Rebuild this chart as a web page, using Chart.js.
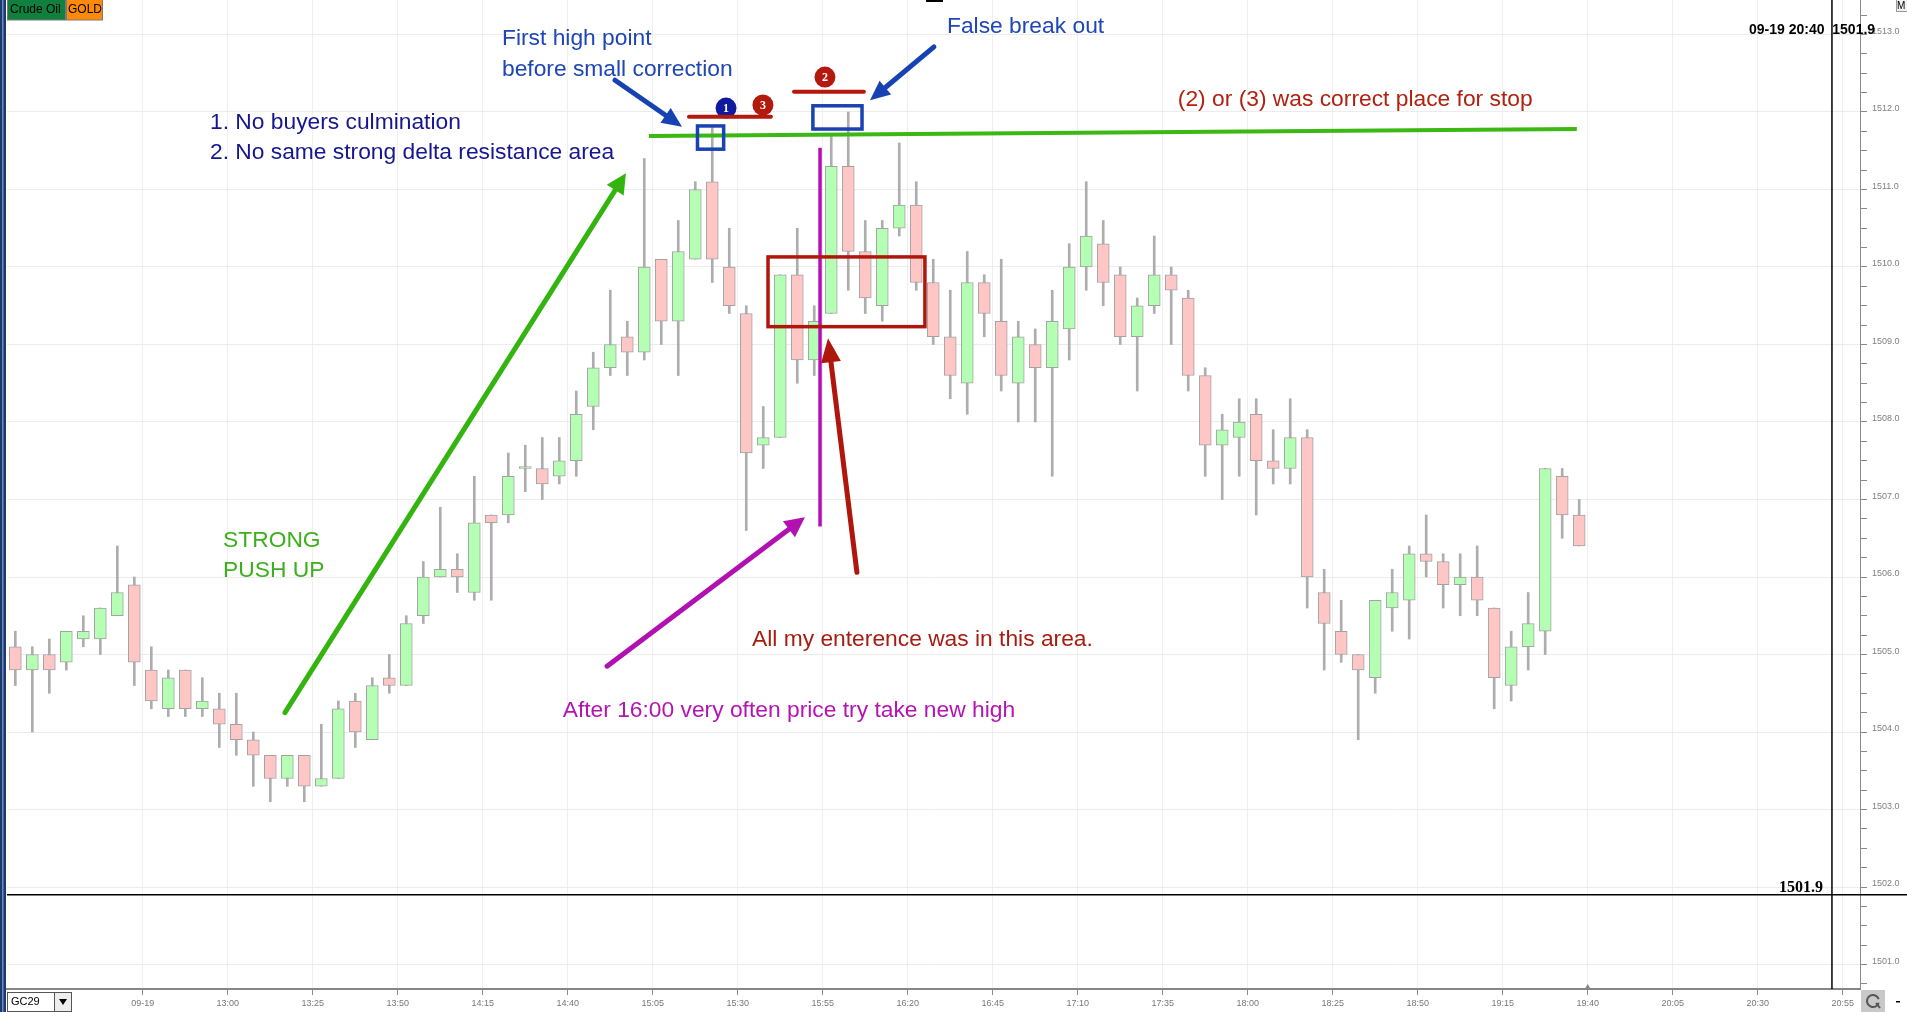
<!DOCTYPE html>
<html>
<head>
<meta charset="utf-8">
<script src="https://cdn.jsdelivr.net/npm/chart.js@4.4.1/dist/chart.umd.min.js"></script>
<style>
html,body{margin:0;padding:0;background:#fff;overflow:hidden}
#wrap{position:relative;width:1907px;height:1012px}
</style>
</head>
<body>
<div id="wrap"><canvas id="c"></canvas></div>
<script>
// ---------- DATA (5-minute GOLD candles, bar index 0..92) ----------
const opens = [1505.1,1504.8,1505.0,1504.9,1505.2,1505.2,1505.5,1505.9,1504.8,1504.3,
1504.8,1504.3,1504.3,1504.1,1503.9,1503.7,1503.4,1503.7,1503.3,1503.4,
1504.4,1503.9,1504.7,1504.6,1505.5,1506.0,1506.1,1505.8,1506.8,1506.8,
1507.4,1507.4,1507.3,1507.5,1508.2,1508.7,1509.1,1508.9,1510.1,1509.3,
1510.1,1511.1,1510.0,1509.4,1507.7,1507.8,1509.9,1508.8,1509.4,1511.3,
1510.2,1509.5,1510.5,1510.8,1509.8,1509.1,1508.5,1509.8,1509.3,1508.5,
1509.0,1508.7,1509.2,1510.0,1510.3,1509.9,1509.1,1509.5,1509.9,1509.6,
1508.6,1507.7,1507.8,1508.1,1507.5,1507.4,1507.8,1505.8,1505.3,1505.0,
1504.7,1505.6,1505.7,1506.3,1506.2,1505.9,1506.0,1505.6,1504.6,1505.1,
1505.3,1507.3,1506.8];
const highs = [1505.3,1505.1,1505.2,1505.3,1505.5,1505.6,1506.4,1506.0,1505.1,1504.8,
1504.8,1504.7,1504.5,1504.5,1504.0,1503.7,1503.7,1503.7,1504.1,1504.4,
1504.5,1504.7,1505.0,1505.5,1506.2,1506.9,1506.3,1507.3,1506.8,1507.6,
1507.7,1507.8,1507.8,1508.4,1508.9,1509.7,1509.3,1511.4,1510.1,1510.6,
1511.1,1511.8,1510.5,1509.5,1508.2,1509.9,1510.5,1509.5,1511.7,1512.0,
1510.6,1510.6,1511.6,1511.1,1510.1,1509.7,1510.2,1509.9,1510.1,1509.3,
1509.2,1509.7,1510.3,1511.1,1510.6,1510.0,1509.6,1510.4,1510.0,1509.7,
1508.7,1508.1,1508.3,1508.3,1507.9,1508.3,1507.9,1506.1,1505.7,1505.0,
1505.7,1506.1,1506.4,1506.8,1506.3,1506.3,1506.4,1505.6,1505.3,1505.8,
1507.4,1507.4,1507.0];
const lows = [1504.6,1504.0,1504.5,1504.8,1505.1,1505.0,1505.5,1504.6,1504.3,1504.2,
1504.2,1504.2,1503.8,1503.7,1503.3,1503.1,1503.3,1503.1,1503.3,1503.4,
1503.8,1503.9,1504.5,1504.6,1505.4,1506.0,1505.8,1505.7,1505.7,1506.7,
1507.1,1507.0,1507.2,1507.3,1507.9,1508.6,1508.6,1508.8,1509.0,1508.6,
1510.1,1509.8,1509.4,1506.6,1507.4,1507.8,1508.5,1508.6,1509.4,1509.7,
1509.4,1509.3,1510.4,1509.7,1509.0,1508.3,1508.1,1509.1,1508.4,1508.0,
1508.0,1507.3,1508.8,1509.7,1509.5,1509.0,1508.4,1509.4,1509.0,1508.4,
1507.3,1507.0,1507.3,1506.8,1507.2,1507.2,1505.6,1504.8,1504.9,1503.9,
1504.5,1505.3,1505.2,1506.0,1505.6,1505.5,1505.5,1504.3,1504.4,1504.8,
1505.0,1506.5,1506.4];
const closes = [1504.8,1505.0,1504.8,1505.3,1505.3,1505.6,1505.8,1504.9,1504.4,1504.7,
1504.3,1504.4,1504.1,1503.9,1503.7,1503.4,1503.7,1503.3,1503.4,1504.3,
1504.0,1504.6,1504.6,1505.4,1506.0,1506.1,1506.0,1506.7,1506.7,1507.3,
1507.4,1507.2,1507.5,1508.1,1508.7,1509.0,1508.9,1510.0,1509.3,1510.2,
1511.0,1510.1,1509.5,1507.6,1507.8,1509.9,1508.8,1509.3,1511.3,1510.2,
1509.6,1510.5,1510.8,1509.8,1509.1,1508.6,1509.8,1509.4,1508.6,1509.1,
1508.7,1509.3,1510.0,1510.4,1509.8,1509.1,1509.5,1509.9,1509.7,1508.6,
1507.7,1507.9,1508.0,1507.5,1507.4,1507.8,1506.0,1505.4,1505.0,1504.8,
1505.7,1505.8,1506.3,1506.2,1505.9,1506.0,1505.7,1504.7,1505.1,1505.4,
1507.4,1506.8,1506.4];
const timeTickPositions = [7.5,12.5,17.5,22.5,27.5,32.5,37.5,42.5,47.5,52.5,57.5,62.5,67.5,72.5,77.5,82.5,87.5,92.5,97.5,102.5,107.5];
const timeTickLabels = ['09-19','13:00','13:25','13:50','14:15','14:40','15:05','15:30','15:55','16:20','16:45','17:10','17:35','18:00','18:25','18:50','19:15','19:40','20:05','20:30','20:55'];
const xRange = [-0.49, 108.52];
const priceRange = [1500.684, 1513.445];
const priceStep = 0.25;
const cursorIndex = 106.87;
const cursorPrice = 1501.9;
const cursorTime = '09-19 20:40';

// ---------- ANNOTATIONS (in bar-index / price units) ----------
const resistanceLine = [[37.28,1511.69],[91.86,1511.78]];
const highBoxes = [[40.13,1511.82,41.67,1511.52],[46.92,1512.08,49.81,1511.78]];
const stopLines = [[39.63,44.45,1511.94],[45.81,49.92,1512.26]];
const stopMarks = [['1',41.81,1512.05,'#0f1a9e'],['3',43.98,1512.09,'#b3190c'],['2',47.63,1512.45,'#b3190c']];
const entryBox = [44.28,1510.13,53.51,1509.23];
const sessionLine = [47.34,1511.54,1506.65];
const arrows = [
  [15.86,1504.25,35.92,1511.21,'#34b40f',5,20,10],
  [35.28,1512.41,39.22,1511.81,'#1743b2',5,20,9],
  [54.04,1512.84,50.28,1512.15,'#1743b2',5,20,9],
  [34.81,1504.85,46.45,1506.77,'#b011b0',5,20,10],
  [49.51,1506.06,47.81,1509.08,'#b0170c',5,24,10]
];
const notes = [
  ['First high point',28.63,1512.86,'#1e46b4'],
  ['before small correction',28.63,1512.46,'#1e46b4'],
  ['False break out',54.81,1513.02,'#1e46b4'],
  ['1. No buyers culmination',11.45,1511.78,'#16168f'],
  ['2. No same strong delta resistance area',11.45,1511.39,'#16168f'],
  ['(2) or (3) was correct place for stop',68.39,1512.08,'#b2210f'],
  ['STRONG',12.22,1506.39,'#3cb01c'],
  ['PUSH UP',12.22,1506.0,'#3cb01c'],
  ['All my enterence was in this area.',43.34,1505.11,'#a81c10'],
  ['After 16:00 very often price try take new high',32.2,1504.2,'#b414b4']
];

// ---------- build datasets ----------
const idx = opens.map((_, i) => i);
const wickData = idx.map(i => ({x: i, y: [lows[i], highs[i]]}));
const bodyData = idx.map(i => ({x: i, y: [opens[i], closes[i]]}));
const bodyColors = idx.map(i => closes[i] >= opens[i] ? '#b5ffb5' : '#ffc6c6');
const isMajor = v => Math.abs(v - Math.round(v)) < 1e-6;

function drawArrow(ctx, x1, y1, x2, y2, color, lw, hl, hw) {
  const a = Math.atan2(y2 - y1, x2 - x1);
  const bx = x2 - hl * Math.cos(a), by = y2 - hl * Math.sin(a);
  ctx.strokeStyle = color; ctx.lineWidth = lw; ctx.lineCap = 'round';
  ctx.beginPath(); ctx.moveTo(x1, y1); ctx.lineTo(bx, by); ctx.stroke();
  ctx.fillStyle = color; ctx.beginPath();
  ctx.moveTo(x2, y2);
  ctx.lineTo(bx + hw * Math.sin(a), by - hw * Math.cos(a));
  ctx.lineTo(bx - hw * Math.sin(a), by + hw * Math.cos(a));
  ctx.closePath(); ctx.fill();
}

const notesPlugin = {
  id: 'notes',
  afterDatasetsDraw(chart) {
    const ctx = chart.ctx;
    const X = v => chart.scales.x.getPixelForValue(v);
    const Y = v => chart.scales.y.getPixelForValue(v);
    ctx.save();
    ctx.lineCap = 'butt';
    // session vertical line
    ctx.strokeStyle = '#b40fb4'; ctx.lineWidth = 3.5;
    ctx.beginPath(); ctx.moveTo(X(sessionLine[0]), Y(sessionLine[1])); ctx.lineTo(X(sessionLine[0]), Y(sessionLine[2])); ctx.stroke();
    // entry box
    ctx.strokeStyle = '#b0170c'; ctx.lineWidth = 3.5;
    ctx.strokeRect(X(entryBox[0]), Y(entryBox[1]), X(entryBox[2]) - X(entryBox[0]), Y(entryBox[3]) - Y(entryBox[1]));
    // resistance line
    ctx.strokeStyle = '#3cb814'; ctx.lineWidth = 4;
    ctx.beginPath(); ctx.moveTo(X(resistanceLine[0][0]), Y(resistanceLine[0][1])); ctx.lineTo(X(resistanceLine[1][0]), Y(resistanceLine[1][1])); ctx.stroke();
    // high boxes
    ctx.strokeStyle = '#1a42b0'; ctx.lineWidth = 3.5;
    highBoxes.forEach(b => ctx.strokeRect(X(b[0]), Y(b[1]), X(b[2]) - X(b[0]), Y(b[3]) - Y(b[1])));
    // stop marks (circles)
    stopMarks.forEach(m => {
      ctx.fillStyle = m[3];
      ctx.beginPath(); ctx.arc(X(m[1]), Y(m[2]), 10.5, 0, Math.PI * 2); ctx.fill();
      ctx.fillStyle = '#ffffff'; ctx.font = 'bold 12px "Liberation Serif", serif';
      ctx.textAlign = 'center'; ctx.textBaseline = 'middle';
      ctx.fillText(m[0], X(m[1]), Y(m[2]) + 1);
    });
    // stop lines
    ctx.strokeStyle = '#b3190c'; ctx.lineWidth = 4; ctx.lineCap = 'round';
    stopLines.forEach(l => { ctx.beginPath(); ctx.moveTo(X(l[0]), Y(l[2])); ctx.lineTo(X(l[1]), Y(l[2])); ctx.stroke(); });
    // arrows
    arrows.forEach(a => drawArrow(ctx, X(a[0]), Y(a[1]), X(a[2]), Y(a[3]), a[4], a[5], a[6], a[7]));
    // texts
    ctx.font = '22.8px "Liberation Sans", Arial, sans-serif';
    ctx.textAlign = 'left'; ctx.textBaseline = 'alphabetic';
    notes.forEach(n => { ctx.fillStyle = n[3]; ctx.fillText(n[0], X(n[1]), Y(n[2])); });
    ctx.restore();
  },
  afterDraw(chart) {
    const ctx = chart.ctx;
    const X = v => chart.scales.x.getPixelForValue(v);
    const Y = v => chart.scales.y.getPixelForValue(v);
    const area = chart.chartArea;
    const W = chart.width, H = chart.height;
    ctx.save();
    // left frame border
    ctx.fillStyle = '#1d3a6c'; ctx.fillRect(0, 0, 6, H);
    ctx.fillStyle = '#6b8cc0'; ctx.fillRect(2, 0, 1.5, H);
    // tabs
    ctx.fillStyle = '#10803f'; ctx.fillRect(7, 0, 58, 20);
    ctx.fillStyle = '#ff8a0a'; ctx.fillRect(66, 0, 36, 20);
    ctx.strokeStyle = '#7a7a7a'; ctx.lineWidth = 1;
    ctx.strokeRect(7.5, -1, 58, 21); ctx.strokeRect(66.5, -1, 36, 21);
    ctx.fillStyle = '#000'; ctx.font = '12px "Liberation Sans", Arial, sans-serif';
    ctx.textAlign = 'left'; ctx.textBaseline = 'middle';
    ctx.fillText('Crude Oil', 10, 10); ctx.fillText('GOLD', 68, 10);
    // tiny mark at top
    ctx.fillStyle = '#000'; ctx.fillRect(926, 0, 17, 2);
    // M button
    ctx.fillStyle = '#f0f0f0'; ctx.fillRect(1896, 0, 11, 12);
    ctx.strokeStyle = '#999'; ctx.strokeRect(1896.5, -0.5, 11, 12);
    ctx.fillStyle = '#000'; ctx.font = '10px "Liberation Sans", Arial'; ctx.fillText('M', 1897, 6);
    // crosshair
    const cx = X(cursorIndex), cy = Y(cursorPrice);
    ctx.strokeStyle = '#000'; ctx.lineWidth = 1.5;
    ctx.beginPath(); ctx.moveTo(cx, 0); ctx.lineTo(cx, area.bottom); ctx.stroke();
    ctx.beginPath(); ctx.moveTo(area.left, cy); ctx.lineTo(W, cy); ctx.stroke();
    ctx.fillStyle = '#000'; ctx.font = 'bold 16px "Liberation Serif", serif';
    ctx.textAlign = 'right'; ctx.textBaseline = 'alphabetic';
    ctx.fillText(cursorPrice.toFixed(1), cx - 9, cy - 3);
    ctx.font = 'bold 14px "Liberation Sans", Arial, sans-serif';
    ctx.textAlign = 'left';
    ctx.fillText(cursorTime + '  ' + cursorPrice.toFixed(1), 1749, 34);
    // axis marker triangle
    const tx = X(timeTickPositions[17]);
    ctx.fillStyle = '#888';
    ctx.beginPath(); ctx.moveTo(tx - 3, area.bottom); ctx.lineTo(tx + 3, area.bottom); ctx.lineTo(tx, area.bottom - 5); ctx.closePath(); ctx.fill();
    // symbol selector
    ctx.fillStyle = '#fff'; ctx.fillRect(7, 992, 64, 19);
    ctx.strokeStyle = '#555'; ctx.lineWidth = 1; ctx.strokeRect(7.5, 992.5, 64, 19);
    ctx.fillStyle = '#eee'; ctx.fillRect(55, 993, 16, 18); ctx.strokeRect(54.5, 992.5, 17, 19);
    ctx.fillStyle = '#000'; ctx.font = '11px "Liberation Sans", Arial'; ctx.textBaseline = 'middle';
    ctx.fillText('GC29', 11, 1002);
    ctx.beginPath(); ctx.moveTo(59, 999); ctx.lineTo(67, 999); ctx.lineTo(63, 1005); ctx.closePath(); ctx.fill();
    // refresh button
    ctx.fillStyle = '#c8c8c8'; ctx.fillRect(1861, 990, 24, 22);
    ctx.strokeStyle = '#555'; ctx.lineWidth = 2;
    ctx.beginPath(); ctx.arc(1873, 1001, 6, 0.3, Math.PI * 1.9); ctx.stroke();
    ctx.beginPath(); ctx.moveTo(1876, 1003); ctx.lineTo(1880, 1008); ctx.stroke();
    ctx.fillStyle = '#000'; ctx.fillRect(1896, 1001, 4, 1.5);
    ctx.restore();
  }
};

new Chart(document.getElementById('c'), {
  type: 'bar',
  data: {
    datasets: [
      {data: wickData, backgroundColor: '#adadad', borderWidth: 0, barThickness: 2, grouped: false, order: 2},
      {data: bodyData, backgroundColor: bodyColors, borderColor: '#a3a3a3', borderWidth: 1, borderSkipped: false,
       barThickness: 12, minBarLength: 2, grouped: false, order: 1}
    ]
  },
  options: {
    responsive: true,
    maintainAspectRatio: false,
    animation: false,
    events: [],
    layout: {padding: {left: 7, right: 0, top: 0, bottom: 0}},
    plugins: {legend: {display: false}, tooltip: {enabled: false}},
    scales: {
      x: {
        type: 'linear', min: xRange[0], max: xRange[1], offset: false,
        grid: {offset: false, color: '#efefef', tickColor: '#8a8a8a', tickLength: 6, lineWidth: 1},
        border: {display: true, color: '#868686', width: 2},
        afterBuildTicks: s => { s.ticks = timeTickPositions.map(v => ({value: v})); },
        ticks: {
          autoSkip: false, maxRotation: 0, minRotation: 0, padding: 3,
          color: '#777', font: {size: 9, family: '"Liberation Sans", Arial, sans-serif'},
          callback: v => { const k = timeTickPositions.indexOf(v); return k >= 0 ? timeTickLabels[k] : ''; }
        },
        afterFit: s => { s.height = 23; s.paddingLeft = 0; s.paddingRight = 0; }
      },
      y: {
        position: 'right', min: priceRange[0], max: priceRange[1],
        grid: {
          color: c => isMajor(c.tick.value) ? '#ececec' : 'rgba(0,0,0,0)',
          tickColor: '#8a8a8a', tickLength: 7, lineWidth: 1
        },
        border: {display: true, color: '#8a8a8a', width: 1},
        ticks: {
          stepSize: priceStep, includeBounds: false, autoSkip: false, padding: 5, labelOffset: -3,
          color: '#808080', font: {size: 9, family: '"Liberation Sans", Arial, sans-serif'},
          callback: v => isMajor(v) ? Number(v).toFixed(1) : ''
        },
        afterFit: s => { s.width = 47; s.paddingTop = 0; s.paddingBottom = 0; }
      }
    }
  },
  plugins: [notesPlugin]
});
</script>
</body>
</html>
